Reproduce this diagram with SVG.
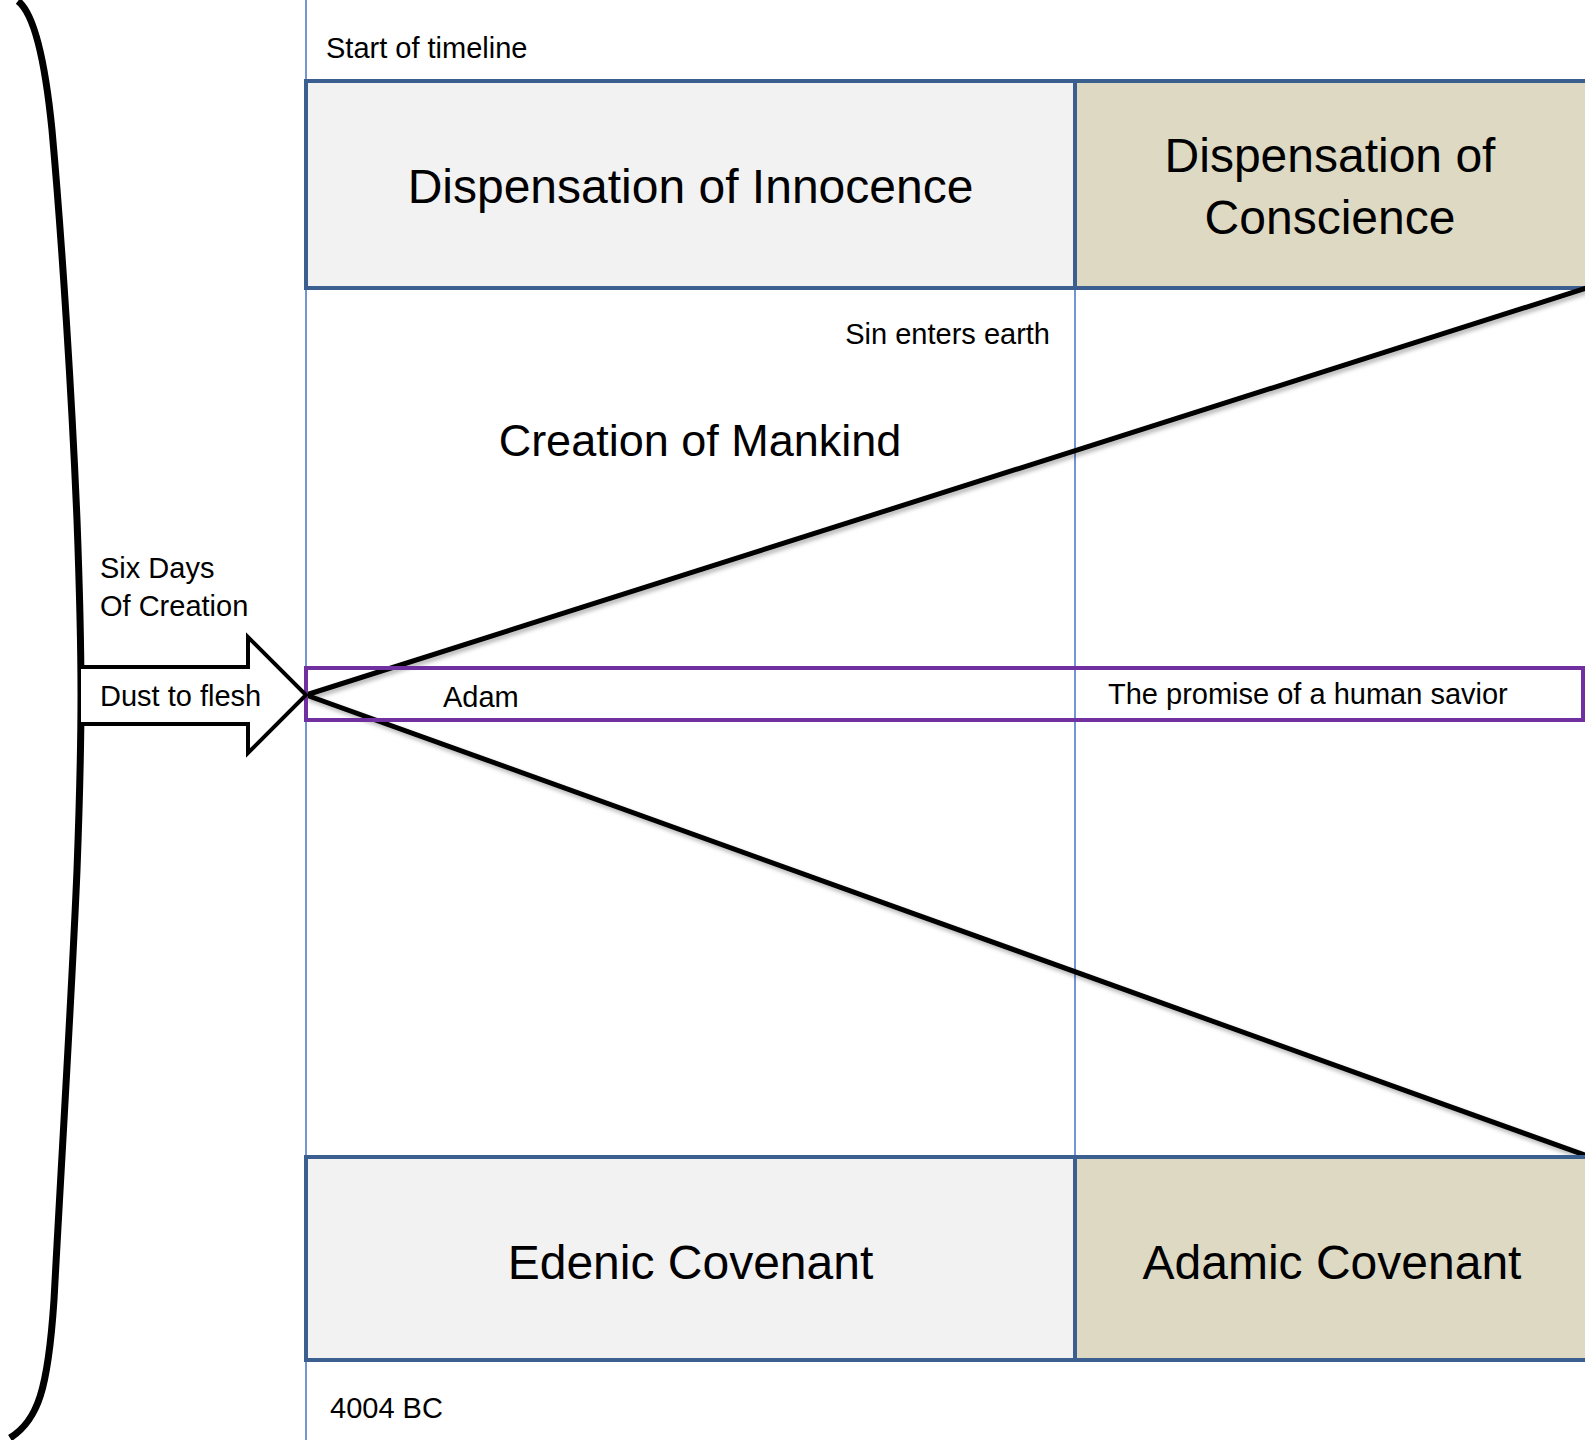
<svg xmlns="http://www.w3.org/2000/svg" width="1585" height="1440" viewBox="0 0 1585 1440">
<style>
  text { font-family: "Liberation Sans", Arial, sans-serif; fill: #000; }
  .small { font-size: 29px; }
  .big { font-size: 48px; }
  .mid { font-size: 45px; }
  .grid { stroke: #4472c4; stroke-width: 1.5; fill: none; }
  .boxA { fill: #f2f2f2; stroke: #3b5f8f; stroke-width: 4; }
  .boxB { fill: #ddd9c3; stroke: #3b5f8f; stroke-width: 4; }
  .band { fill: none; stroke: #7030a0; stroke-width: 4; }
  .ray { stroke: #000; stroke-width: 5; fill: none; }
</style>
<defs>
  <filter id="shadow" x="-5%" y="-5%" width="110%" height="110%">
    <feDropShadow dx="2" dy="3" stdDeviation="2" flood-color="#000" flood-opacity="0.3"/>
  </filter>
</defs>
<rect x="0" y="0" width="1585" height="1440" fill="#fff"/>

<g id="gridlines">
  <line class="grid" x1="306" y1="0" x2="306" y2="1440"/>
  <line class="grid" x1="1075" y1="288" x2="1075" y2="1157"/>
</g>

<g id="brace">
  <path d="M 18,1 C 32,12 44,50 52,130 C 62,240 72,400 77,520 C 80,600 81,650 81,695 C 81,740 80,790 77,870 C 72,990 62,1150 54,1300 C 48,1390 38,1420 10,1438" fill="none" stroke="#000" stroke-width="7" stroke-linecap="butt"/>
</g>

<g id="label-start"><text class="small" x="326" y="58">Start of timeline</text></g>

<g id="innocence">
  <rect class="boxA" x="306" y="81" width="769" height="207"/>
  <text class="big" x="690.5" y="203" text-anchor="middle">Dispensation of Innocence</text>
</g>
<g id="conscience">
  <rect class="boxB" x="1075" y="81" width="512" height="207"/>
  <text class="big" x="1330" y="172" text-anchor="middle">Dispensation of</text>
  <text class="big" x="1330" y="234" text-anchor="middle">Conscience</text>
</g>

<g id="label-sin"><text class="small" x="1050" y="344" text-anchor="end">Sin enters earth</text></g>
<g id="label-creation"><text class="mid" x="700" y="456" text-anchor="middle">Creation of Mankind</text></g>
<g id="label-sixdays">
  <text class="small" x="100" y="578">Six Days</text>
  <text class="small" x="100" y="616">Of Creation</text>
</g>

<g id="connectors" filter="url(#shadow)">
  <line class="ray" x1="306" y1="695" x2="1590" y2="287"/>
  <line class="ray" x1="306" y1="695" x2="1590" y2="1157"/>
</g>

<g id="band">
  <rect class="band" x="306" y="668" width="1277" height="52"/>
  <text class="small" x="443" y="707">Adam</text>
  <text class="small" x="1108" y="704">The promise of a human savior</text>
</g>

<g id="arrow">
  <path d="M 81,667 L 248,667 L 248,637 L 306,695 L 248,753 L 248,724 L 81,724" fill="#fff" stroke="#000" stroke-width="4" stroke-linejoin="miter"/>
  <text class="small" x="100" y="706">Dust to flesh</text>
</g>

<g id="edenic">
  <rect class="boxA" x="306" y="1157" width="769" height="203"/>
  <text class="big" x="690.5" y="1279" text-anchor="middle">Edenic Covenant</text>
</g>
<g id="adamic">
  <rect class="boxB" x="1075" y="1157" width="512" height="203"/>
  <text class="big" x="1332" y="1279" text-anchor="middle">Adamic Covenant</text>
</g>

<g id="label-date"><text class="small" x="330" y="1418">4004 BC</text></g>
</svg>
